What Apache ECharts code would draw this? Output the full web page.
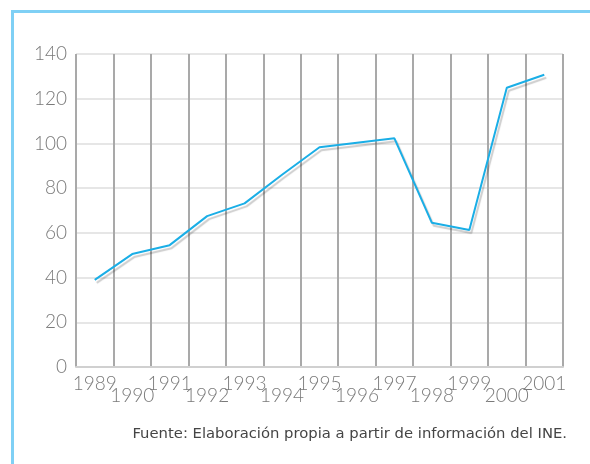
<!DOCTYPE html>
<html>
<head>
<meta charset="utf-8">
<script src="https://cdn.jsdelivr.net/npm/echarts@6/dist/echarts.min.js"></script>
<style>
  html, body { margin: 0; padding: 0; background: #fff; }
  #chart { width: 590px; height: 464px; }
</style>
</head>
<body>
<div id="chart"></div>
<script>
// años y valores
const years = ['1989', '1990', '1991', '1992', '1993', '1994', '1995',
  '1996', '1997', '1998', '1999', '2000', '2001']
const values = [39, 50.5, 54.5, 67.5, 73.2, 86, 98.3, 100.3, 102.3, 64.5, 61.3, 124.9, 130.7]
const yTicks = [0, 20, 40, 60, 80, 100, 120, 140]
const sourceText = 'Fuente: Elaboración propia a partir de información del INE.'

const chart = echarts.init(document.getElementById('chart'))
const labelFont = 'Lato'

const option = {
  animation: false,
  grid: { left: 76, right: 27, top: 54, bottom: 97, containLabel: false },
  graphic: [
    { // marco azul (solo arriba e izquierda)
      type: 'polyline',
      shape: { points: [[12.5, 470], [12.5, 11.5], [600, 11.5]] },
      style: { stroke: '#7fd0f5', lineWidth: 3, fill: null }
    },
    {
      type: 'text',
      right: 23,
      top: 427,
      style: {
        text: sourceText,
        font: '14.8px "DejaVu Sans", sans-serif',
        fill: '#454545'
      }
    }
  ],
  xAxis: {
    type: 'category',
    data: years,
    boundaryGap: true,
    axisLine: { show: true, lineStyle: { color: '#d0d0d0', width: 2 } },
    axisTick: { show: false },
    splitLine: { show: true, lineStyle: { color: '#a9a9a9', width: 2 } },
    axisLabel: {
      interval: 0,
      margin: 10.5,
      fontFamily: labelFont,
      fontWeight: 300,
      fontSize: 19,
      color: '#7a7a7a',
      lineHeight: 12.5,
      formatter: (v, i) => (i % 2 ? '\n' + v : v)
    }
  },
  yAxis: {
    type: 'value',
    min: yTicks[0],
    max: yTicks[yTicks.length - 1],
    interval: 20,
    axisLine: { show: false },
    axisTick: { show: false },
    splitLine: { lineStyle: { color: '#dedede', width: 1.5 } },
    axisLabel: {
      margin: 9,
      fontFamily: labelFont,
      fontWeight: 300,
      fontSize: 19,
      color: '#7a7a7a',
      padding: [3, 0, 0, 0]
    }
  },
  series: [
    {
      type: 'line',
      data: values,
      symbol: 'none',
      lineStyle: {
        color: '#1aaee6',
        width: 2,
        shadowColor: 'rgba(0,0,0,0.2)',
        shadowOffsetX: 2,
        shadowOffsetY: 3,
        shadowBlur: 1
      }
    }
  ]
}
chart.setOption(option)
</script>
</body>
</html>
